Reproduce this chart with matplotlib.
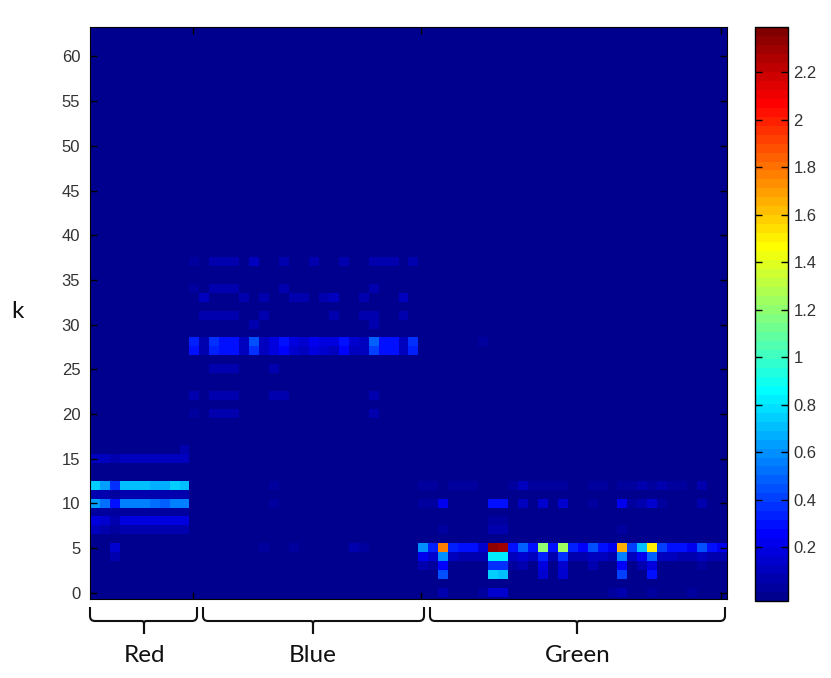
import numpy as np
import matplotlib
matplotlib.use('Agg')
import matplotlib.pyplot as plt
from matplotlib.colors import ListedColormap
from matplotlib.path import Path
from matplotlib.patches import PathPatch

W, H = 831, 678
NK, NCOL = 64, 64
VMIN, VMAX = -0.027, 2.39

group_names = ['Red', 'Blue', 'Green']
k_ticks = list(range(0, 61, 5))
bar_ticks = [0.2, 0.4, 0.6, 0.8, 1, 1.2, 1.4, 1.6, 1.8, 2, 2.2]
bar_labels = ['0.2', '0.4', '0.6', '0.8', '1', '1.2', '1.4', '1.6', '1.8', '2', '2.2']

# red group, columns 0-9
red_k16 = [0, 0, 0, 0, 0, 0, 0, 0, 0, .06]
red_k15 = [.1, .1, .05, .1, .1, .1, .1, .1, .1, .11]
red_k12 = [.74, .64, .38, .7, .7, .7, .68, .68, .76, .72]
red_k11 = [.05, .05, .02, .05, .05, .05, .05, .05, .05, .05]
red_k10 = [.63, .52, .3, .56, .56, .56, .52, .5, .56, .56]
red_k9 = [.02] * 10
red_k8 = [.17, .14, .08, .17, .17, .17, .17, .17, .17, .17]
red_k7 = [.09, .08, .04, .08, .08, .08, .08, .08, .08, .08]
red_k5 = [0, 0, .14, 0, 0, 0, 0, 0, 0, 0]
red_k4 = [0, 0, .06, 0, 0, 0, 0, 0, 0, 0]

# blue group, columns 10-32
blue_k37 = [.04, 0, .05, .05, .05, 0, .09, 0, 0, .05, 0, 0, .05, 0, 0, .05, 0, 0, .08, .06, .05, 0, .05]
blue_k34 = [.04, 0, .05, .05, .05, 0, 0, 0, 0, .05, 0, 0, 0, 0, 0, 0, 0, 0, .05, 0, 0, 0, 0]
blue_k33 = [0, .09, 0, 0, 0, .05, 0, .07, 0, 0, .06, .06, 0, .06, .09, 0, 0, .07, 0, 0, 0, .09, 0]
blue_k31 = [0, .05, .05, .05, .05, 0, 0, .06, 0, 0, 0, 0, 0, 0, .05, 0, 0, .05, .07, 0, 0, .05, 0]
blue_k30 = [0, 0, 0, 0, 0, 0, .07, 0, 0, 0, 0, 0, 0, 0, 0, 0, 0, 0, .07, 0, 0, 0, 0]
blue_k28 = [.33, .08, .36, .31, .31, .12, .45, .12, .19, .28, .18, .14, .23, .19, .18, .28, .14, .11, .5, .3, .3, .12, .36]
blue_k27 = [.31, .08, .34, .3, .3, .11, .38, .11, .17, .25, .14, .11, .19, .16, .11, .25, .11, .09, .42, .31, .28, .09, .33]
blue_k25 = [0, 0, .05, .05, .05, 0, 0, 0, .06, 0, 0, 0, 0, 0, 0, 0, 0, 0, 0, 0, 0, 0, 0]
blue_k22 = [.05, 0, .05, .05, .05, 0, 0, 0, .05, .05, 0, 0, 0, 0, 0, 0, 0, 0, .05, 0, 0, 0, 0]
blue_k20 = [.04, 0, .05, .05, .05, 0, 0, 0, 0, 0, 0, 0, 0, 0, 0, 0, 0, 0, .05, 0, 0, 0, 0]
blue_k12 = [0, 0, 0, 0, 0, 0, 0, 0, .04, 0, 0, 0, 0, 0, 0, 0, 0, 0, 0, 0, 0, 0, 0]
blue_k10 = [0, 0, 0, 0, 0, 0, 0, 0, .04, 0, 0, 0, 0, 0, 0, 0, 0, 0, 0, 0, 0, 0, 0]
blue_k5 = [0, 0, 0, 0, 0, 0, 0, .04, 0, 0, .04, 0, 0, 0, 0, 0, .05, .02, 0, 0, 0, 0, 0]

# green group, columns 33-63
green_k28 = [0, 0, 0, 0, 0, 0, .03, 0, 0, 0, 0, 0, 0, 0, 0, 0, 0, 0, 0, 0, 0, 0, 0, 0, 0, 0, 0, 0, 0, 0, 0]
green_k12 = [.03, .03, 0, .04, .04, .04, 0, 0, 0, .03, .09, .03, .03, .03, .03, 0, 0, .04, .04, 0, .03, .03, .06, .03, .07, .03, .03, 0, .06, 0, 0]
green_k10 = [.03, .03, .22, 0, 0, 0, 0, .28, .28, 0, .09, 0, .13, 0, .13, 0, 0, .04, 0, 0, .2, .04, .07, .13, .03, 0, 0, 0, .07, 0, 0]
green_k8 = [0, 0, 0, 0, 0, 0, 0, .04, .04, 0, 0, 0, 0, 0, 0, 0, 0, 0, 0, 0, 0, 0, 0, 0, 0, 0, 0, 0, 0, 0, 0]
green_k7 = [0, 0, .04, 0, 0, 0, 0, .08, .06, 0, 0, 0, 0, 0, 0, 0, 0, 0, 0, 0, .04, 0, 0, 0, 0, 0, 0, 0, 0, 0, 0]
green_k5 = [.58, .35, 1.75, .35, .3, .3, .15, 2.32, 2.3, .3, .5, .3, 1.2, .3, 1.25, .35, .25, .45, .3, .2, 1.65, .4, .7, 1.5, .4, .3, .3, .2, .45, .3, .2]
green_k4 = [.2, .15, .58, .1, .08, .08, .05, .82, .82, .1, .15, .1, .35, .08, .38, .08, .05, .1, .1, .08, .55, .1, .2, .5, .1, .1, .08, .08, .12, .08, .08]
green_k3 = [.05, .02, .25, 0, 0, 0, 0, .38, .38, .02, .05, 0, .18, 0, .14, 0, 0, .05, 0, 0, .24, 0, .05, .19, 0, 0, 0, 0, .03, 0, 0]
green_k2 = [0, 0, .46, 0, 0, 0, 0, .76, .72, 0, 0, 0, .14, 0, .14, 0, 0, 0, 0, 0, .42, 0, 0, .28, 0, 0, 0, 0, 0, 0, 0]
green_k0 = [0, 0, .08, 0, 0, 0, .04, .15, .15, 0, 0, 0, 0, 0, 0, 0, 0, 0, 0, .03, .08, 0, 0, .04, 0, 0, 0, .03, 0, 0, 0]

Z = np.zeros((NK, NCOL))
red_rows = {16: red_k16, 15: red_k15, 12: red_k12, 11: red_k11, 10: red_k10,
            9: red_k9, 8: red_k8, 7: red_k7, 5: red_k5, 4: red_k4}
blue_rows = {37: blue_k37, 34: blue_k34, 33: blue_k33, 31: blue_k31, 30: blue_k30,
             28: blue_k28, 27: blue_k27, 25: blue_k25, 22: blue_k22, 20: blue_k20,
             12: blue_k12, 10: blue_k10, 5: blue_k5}
green_rows = {28: green_k28, 12: green_k12, 10: green_k10, 8: green_k8, 7: green_k7,
              5: green_k5, 4: green_k4, 3: green_k3, 2: green_k2, 0: green_k0}
for k, v in red_rows.items():
    Z[k, 0:10] = v
for k, v in blue_rows.items():
    Z[k, 10:33] = v
for k, v in green_rows.items():
    Z[k, 33:64] = v

# matlab style jet, 64 steps
x = np.arange(1, 65) / 64
jet64 = ListedColormap(np.column_stack([
    np.clip(np.minimum(4 * x - 1.5, -4 * x + 4.5), 0, 1),
    np.clip(np.minimum(4 * x - 0.5, -4 * x + 3.5), 0, 1),
    np.clip(np.minimum(4 * x + 0.5, -4 * x + 2.5), 0, 1)]))

fig = plt.figure(figsize=(W / 100, H / 100), dpi=100)
plt.rcParams['font.family'] = 'Liberation Sans'

ax = fig.add_axes([90 / W, 1 - 599 / H, 637 / W, 572 / H])
ax.set_facecolor(jet64(0))
im = ax.imshow(Z, origin='lower', cmap=jet64, vmin=VMIN, vmax=VMAX, aspect='auto',
               interpolation='nearest', extent=(-0.5, 63.5, -0.5, 63.5))
ax.set_xlim(-0.5, 63.5)
ax.set_ylim(-0.7, 63.3)
ax.set_yticks(k_ticks)
ax.set_xticks([9.8, 32.8, 62.9])
ax.set_xticklabels([])
ax.tick_params(direction='in', top=True, right=True, length=5, width=1, labelsize=12,
               labelcolor='#333333', pad=7)

cax = fig.add_axes([755 / W, 1 - 601 / H, 33 / W, 574 / H])
cb = fig.colorbar(im, cax=cax)
cb.set_ticks(bar_ticks)
cb.set_ticklabels(bar_labels)
cb.ax.tick_params(direction='in', left=True, right=True, length=5, width=1, labelsize=12,
                  labelcolor='#333333', pad=4)
cb.outline.set_linewidth(1)

# brackets and labels drawn in pixel coords on top of everything
ov = fig.add_axes([0, 0, 1, 1])
ov.set_xlim(0, W)
ov.set_ylim(H, 0)
ov.axis('off')


def brace(x0, x1, xm):
    top, arm, tip, r = 607, 621, 634, 5
    verts = [(x0, top), (x0, arm - r), (x0, arm), (x0 + r, arm), (xm - 2, arm), (xm, arm),
             (xm, arm + 3), (xm, tip), (xm, arm + 3), (xm, arm), (xm + 2, arm),
             (x1 - r, arm), (x1, arm), (x1, arm - r), (x1, top)]
    codes = [Path.MOVETO, Path.LINETO, Path.CURVE3, Path.CURVE3, Path.LINETO, Path.CURVE3,
             Path.CURVE3, Path.LINETO, Path.LINETO, Path.CURVE3, Path.CURVE3,
             Path.LINETO, Path.CURVE3, Path.CURVE3, Path.LINETO]
    ov.add_patch(PathPatch(Path(verts, codes), fc='none', ec='#111111', lw=1.5))


brace(90, 197, 144)
brace(203, 424, 313)
brace(430, 725, 577)

for name, xc in zip(group_names, [144, 313, 578]):
    ov.text(xc, 656, name, family='Lato', fontsize=17.5, ha='center', va='center', color='#111111')
ov.text(17, 312, 'k', family='Lato', fontsize=17.5, ha='center', va='center', color='#111111')

fig.savefig('out.png', dpi=100)
